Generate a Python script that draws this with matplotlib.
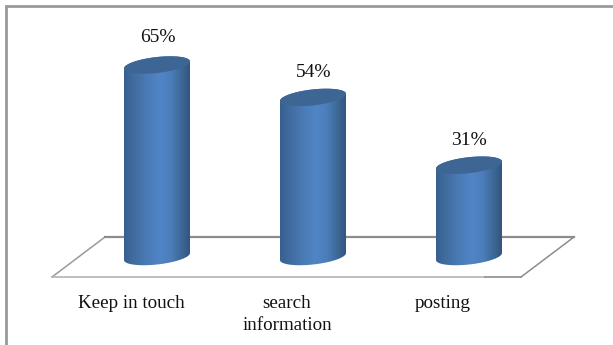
#!/usr/bin/python3
import numpy as np
import matplotlib
matplotlib.use('Agg')
import matplotlib.pyplot as plt
from matplotlib.colors import LinearSegmentedColormap
from matplotlib.patches import Polygon

plt.rcParams['font.family'] = ['Liberation Serif', 'DejaVu Serif']

categories = ['Keep in touch', 'search\ninformation', 'posting']
values = [65, 54, 31]
value_labels = ['65%', '54%', '31%']

W, H = 613, 345
X0, DX = 157, 156      # pixel of first cylinder centre, spacing
Y0, DY = 256.5, 2.946  # pixel of value 0, pixels per percent
HALF_W = 33 / DX
ELL_B = 8 / DY
ELL_S = 3.5 / DY
PT = 0.72              # points per pixel at dpi 100

fig = plt.figure(figsize=(W / 100, H / 100), dpi=100, facecolor='white')

# frame and floor live in plain pixel coords
bg = fig.add_axes([0, 0, 1, 1])
bg.set_xlim(0, W)
bg.set_ylim(H, 0)
bg.axis('off')
bg.plot([6, 6, W], [H, 5.5, 5.5], color='#999999', lw=2, solid_joinstyle='miter')
bg.plot([52, 105], [277, 237], color='#9a9a9a', lw=1.1)
bg.plot([521, 574], [277, 237], color='#8c8c8c', lw=1.1)
bg.plot([52, 485], [277, 277], color='#b4b4b4', lw=1.2)
bg.plot([485, 521], [277, 277], color='#8c8c8c', lw=1.2)
bg.plot([105, 574], [237, 237], color='#8c8c8c', lw=1.6)

ax = fig.add_axes([0, 0, 1, 1])
ax.patch.set_alpha(0)
ax.axis('off')

cmap = LinearSegmentedColormap.from_list('cyl', [
    (0.0, '#37608f'), (0.12, '#3f6a9c'), (0.35, '#4a7bb6'), (0.55, '#5085c6'),
    (0.72, '#4b7db8'), (0.88, '#3d6796'), (1.0, '#33557f')])
grad = np.linspace(0, 1, 256).reshape(1, -1)

t = np.linspace(0, 2 * np.pi, 181)
cos_t, sin_t = np.cos(t), np.sin(t)

label_off = [27.5, 24.5, 25]

for i, v in enumerate(values):
    # y axis points up here: right side of the ellipse sits higher
    ex = i + HALF_W * cos_t
    ey_off = ELL_B * sin_t + ELL_S * cos_t

    lower = t[:91] + np.pi  # lower half goes left to right
    bx = i + HALF_W * np.cos(lower)
    by = ELL_B * np.sin(lower) + ELL_S * np.cos(lower)
    upper = t[:91]          # upper half goes right to left
    ux = i + HALF_W * np.cos(upper)
    uy = v + ELL_B * np.sin(upper) + ELL_S * np.cos(upper)

    body = Polygon(np.column_stack([np.r_[bx, ux], np.r_[by, uy]]),
                   closed=True, transform=ax.transData, facecolor='none', edgecolor='none')
    ax.add_patch(body)
    im = ax.imshow(grad, cmap=cmap, aspect='auto', interpolation='bilinear',
                   extent=[i - HALF_W, i + HALF_W, -10, v + 10], zorder=2)
    im.set_clip_path(body)

    ax.fill(ex, v + ey_off, color='#3e6695', lw=0, zorder=3)

    ax.annotate(value_labels[i], (i, v), xytext=(0.3, label_off[i] * PT),
                textcoords='offset points', ha='center', va='center',
                fontsize=14, color='#111111', zorder=4)

    if '\n' in categories[i]:
        ax.annotate(categories[i], (i, 0), xytext=(-26 * PT, -(295 - Y0) * PT),
                    textcoords='offset points', ha='center', va='top', linespacing=1.36,
                    fontsize=13.7, color='#111111', zorder=4)
    else:
        ax.annotate(categories[i], (i, 0), xytext=(-26 * PT, -(308 - Y0) * PT),
                    textcoords='offset points', ha='center', va='baseline',
                    fontsize=13.7, color='#111111', zorder=4)

# imshow resets limits
ax.set_xlim(-X0 / DX, (W - X0) / DX)
ax.set_ylim(-(H - Y0) / DY, Y0 / DY)

fig.savefig('out.png', dpi=100, facecolor='white')
